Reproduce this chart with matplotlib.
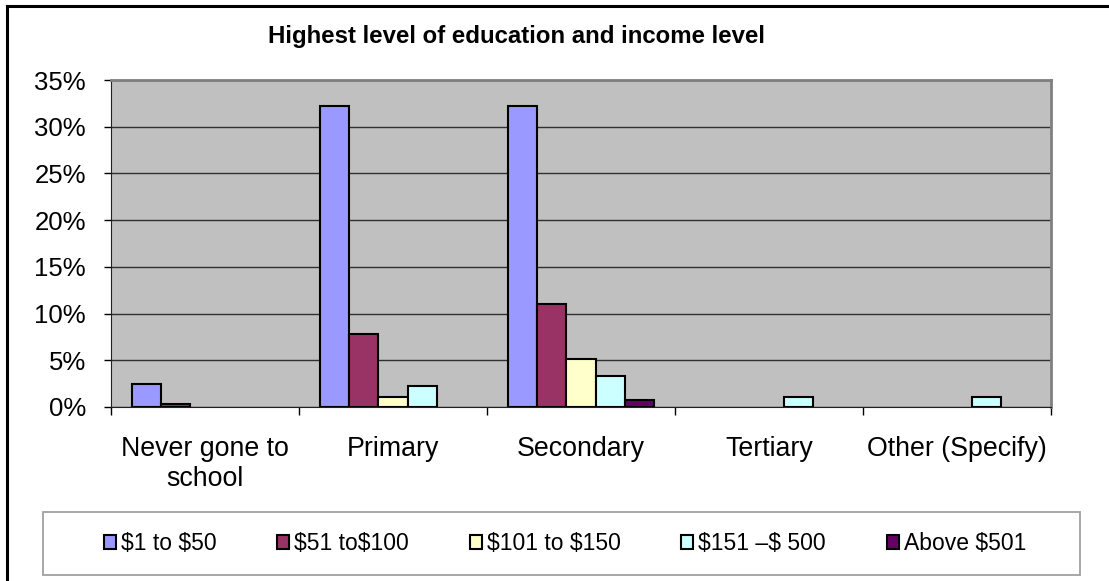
import numpy as np
import matplotlib.pyplot as plt
from matplotlib.lines import Line2D
from matplotlib.patches import Rectangle

plt.rcParams['font.family'] = ['Liberation Sans', 'DejaVu Sans']

# education level vs income group (percent of respondents)
kategori = ['Never gone to\nschool', 'Primary', 'Secondary', 'Tertiary', 'Other (Specify)']
seri = ['\\$1 to \\$50', '\\$51 to\\$100', '\\$101 to \\$150', '\\$151 \u2013\\$ 500', 'Above \\$501']
nilai_1_50 = [2.5, 32.2, 32.2, 0, 0]
nilai_51_100 = [0.3, 7.8, 11.0, 0, 0]
nilai_101_150 = [0, 1.1, 5.1, 0, 0]
nilai_151_500 = [0, 2.3, 3.3, 1.1, 1.1]
nilai_501 = [0, 0, 0.8, 0, 0]
warna = ['#9999FF', '#993366', '#FFFFCC', '#CCFFFF', '#660066']
yticks = [0, 5, 10, 15, 20, 25, 30, 35]

semua = [nilai_1_50, nilai_51_100, nilai_101_150, nilai_151_500, nilai_501]

W, H = 1109, 581
fig = plt.figure(figsize=(W / 100, H / 100), dpi=100)
ax = fig.add_axes([111 / W, 1 - 407 / H, 940 / W, 327 / H])
ax.set_facecolor('#C0C0C0')

x = np.arange(len(kategori))
lebar = 0.155
for j, (data, c, lab) in enumerate(zip(semua, warna, seri)):
    h = np.array(data, dtype=float)
    h[h == 0] = np.nan  # excel hides zero bars
    ax.bar(x + (j - 2) * lebar, h, lebar, color=c, edgecolor='black',
           linewidth=1.5, label=lab, zorder=3)

ax.set_xlim(-0.5, 4.5)
ax.set_ylim(0, 35)
ax.set_yticks(yticks)
ax.set_yticklabels([f'{v}%' for v in yticks], fontsize=18.5)
ax.tick_params(axis='y', length=5, width=1, pad=13, direction='out')
ax.grid(axis='y', color='#303030', linewidth=1, zorder=1)

# boundaries as major ticks, names on minor ticks
ax.set_xticks(np.arange(-0.5, 5, 1))
ax.set_xticklabels([])
ax.set_xticks(x, minor=True)
ax.set_xticklabels(kategori, minor=True, fontsize=19.3, va='top')
ax.tick_params(axis='x', which='major', length=6, width=1)
ax.tick_params(axis='x', which='minor', length=0, pad=21)

for s in ['top', 'right']:
    ax.spines[s].set_color('#808080')
    ax.spines[s].set_linewidth(2)
ax.spines['left'].set_color('#202020')
ax.spines['bottom'].set_color('#202020')

fig.text(516 / W, 1 - 43 / H, 'Highest level of education and income level',
         ha='center', va='baseline', fontsize=17.3, fontweight='bold')

# legend box
fig.add_artist(Rectangle((43 / W, 1 - 575 / H), 1037 / W, 63 / H,
                         transform=fig.transFigure, facecolor='white',
                         edgecolor='#A0A0A0', linewidth=1.3))
handles, labels = ax.get_legend_handles_labels()
leg = fig.legend(handles, labels, loc='center', bbox_to_anchor=(565 / W, 1 - 543.5 / H),
                 ncol=5, fontsize=16.5, handlelength=0.52, handleheight=0.52,
                 handletextpad=0.22, columnspacing=2.65, frameon=False)
for p in leg.get_patches():
    p.set_linewidth(1.5)

# chart area border (top and left)
fig.add_artist(Line2D([7 / W, 7 / W], [0, 1 - 6 / H], color='black', linewidth=2.2))
fig.add_artist(Line2D([7 / W, 1], [1 - 6 / H, 1 - 6 / H], color='black', linewidth=2.2))

plt.savefig('out.png', dpi=100)
